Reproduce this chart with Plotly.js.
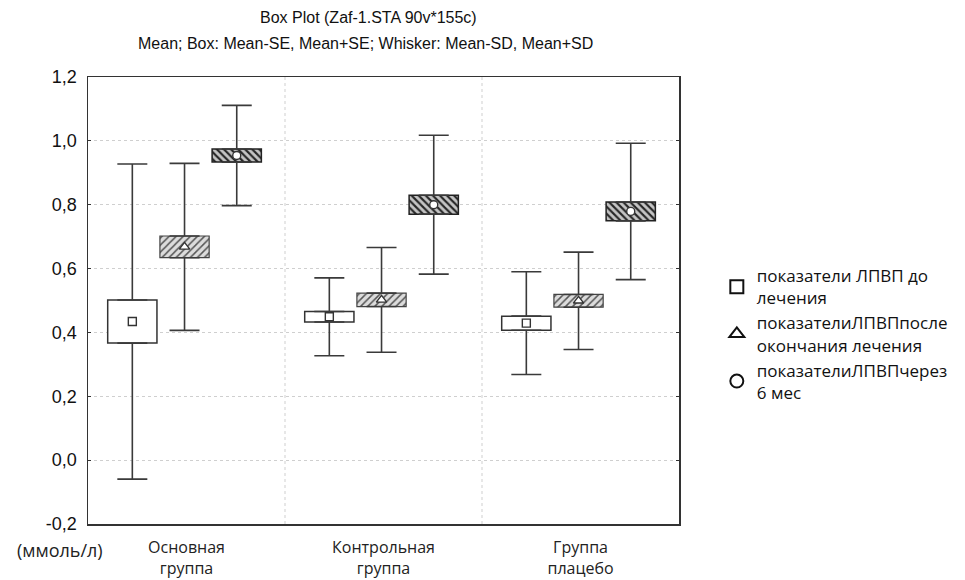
<!DOCTYPE html>
<html>
<head>
<meta charset="utf-8">
<script src="https://cdn.plot.ly/plotly-3.0.1.min.js"></script>
<style>html,body{margin:0;padding:0;background:#fff;}#chart{width:965px;height:580px;}</style>
</head>
<body>
<div id="chart"></div>
<script>
// Categories (groups) and series
const groups = ["Основная<br>группа", "Контрольная<br>группа", "Группа<br>плацебо"];
const seriesNames = [
  "показатели ЛПВП до<br>лечения",
  "показателиЛПВПпосле<br>окончания лечения",
  "показателиЛПВПчерез<br>6 мес"
];
// Mean values per series (one per group)
const meanBefore = [0.434, 0.449, 0.429];
const meanAfter  = [0.668, 0.502, 0.499];
const mean6m     = [0.954, 0.800, 0.779];
// Standard errors
const seBefore = [0.0675, 0.0165, 0.022];
const seAfter  = [0.034, 0.021, 0.020];
const se6m     = [0.0205, 0.0295, 0.0295];
// Standard deviations
const sdBefore = [0.4935, 0.122, 0.161];
const sdAfter  = [0.2615, 0.164, 0.1525];
const sd6m     = [0.157, 0.2175, 0.2135];
const yTicks = [-0.2, 0.0, 0.2, 0.4, 0.6, 0.8, 1.0, 1.2];
const yTickText = yTicks.map(v => v.toFixed(1).replace(".", ","));

// ---- styling / layout constants ----
const offsets = [-0.275, -0.01, 0.255];
const boxWidth = 0.25;
const symbols = ["square", "triangle-up", "circle"];
const legendSymbols = ["square-open", "triangle-up-open", "circle-open"];
const boxStyles = [
  {color: "#ffffff", line: {color: "#333", width: 1.5}},
  {color: "#d6d6d6", line: {color: "#444", width: 1.2},
   pattern: {shape: "/", bgcolor: "#dcdcdc", fgcolor: "#555", size: 5, solidity: 0.3}},
  {color: "#b0b0b0", line: {color: "#222", width: 1.5},
   pattern: {shape: "\\", bgcolor: "#c4c4c4", fgcolor: "#262626", size: 5, solidity: 0.42}}
];

const means = [meanBefore, meanAfter, mean6m];
const ses = [seBefore, seAfter, se6m];
const sds = [sdBefore, sdAfter, sd6m];

const traces = [];
const gx = groups.map((g, i) => i);

for (let k = 0; k < 3; k++) {
  const xs = gx.map(i => i + offsets[k]);
  const m = means[k], se = ses[k], sd = sds[k];
  const boxLow = m.map((v, i) => v - se[i]);
  const boxHigh = m.map((v, i) => v + se[i]);
  traces.push({
    type: "bar", x: xs, y: se.map(v => 2 * v), base: boxLow, width: boxWidth,
    marker: boxStyles[k], showlegend: false, hoverinfo: "skip"
  });
  traces.push({
    type: "scatter", mode: "markers", x: xs, y: boxHigh,
    marker: {size: 1, opacity: 0},
    error_y: {type: "data", symmetric: false, array: sd.map((v, i) => v - se[i]),
              arrayminus: sd.map(() => 0), width: 15, thickness: 1.6, color: "#3a3a3a"},
    showlegend: false, hoverinfo: "skip"
  });
  traces.push({
    type: "scatter", mode: "markers", x: xs, y: boxLow,
    marker: {size: 1, opacity: 0},
    error_y: {type: "data", symmetric: false, array: sd.map(() => 0),
              arrayminus: sd.map((v, i) => v - se[i]), width: 15, thickness: 1.6, color: "#3a3a3a"},
    showlegend: false, hoverinfo: "skip"
  });
  traces.push({
    type: "scatter", mode: "markers", x: xs, y: m,
    marker: {symbol: symbols[k], size: k === 1 ? 9 : 8, color: "#fff",
             line: {color: "#333", width: 1.4}},
    showlegend: false, hoverinfo: "skip"
  });
}
for (let k = 0; k < 3; k++) {
  traces.push({
    type: "scatter", mode: "markers", x: [null], y: [null], name: seriesNames[k],
    marker: {symbol: legendSymbols[k], size: 13, color: "#111", line: {width: 2, color: "#111"}}
  });
}

const layout = {
  width: 965, height: 580,
  margin: {l: 88, r: 286, t: 77, b: 56},
  paper_bgcolor: "#fff", plot_bgcolor: "#fff",
  barmode: "overlay",
  showlegend: true,
  legend: {
    x: 1.064, y: 0.595, xanchor: "left", yanchor: "top",
    font: {family: "Open Sans, Noto Sans, sans-serif", size: 17, color: "#111"},
    bgcolor: "rgba(0,0,0,0)", tracegroupgap: 0, itemclick: false
  },
  xaxis: {
    range: [-0.5, 2.5], tickmode: "array", tickvals: gx, ticktext: groups,
    showgrid: false, zeroline: false, showline: true, mirror: true,
    linecolor: "#333", linewidth: 1.5, ticks: "", ticklabelstandoff: 8,
    tickfont: {family: "Open Sans, Noto Sans, sans-serif", size: 16, color: "#222"}
  },
  yaxis: {
    range: [-0.2, 1.2], tickmode: "array", tickvals: yTicks, ticktext: yTickText,
    showgrid: true, gridcolor: "#cfcfcf", griddash: "dot", gridwidth: 1,
    zeroline: false, showline: true, mirror: "ticks", linecolor: "#333", linewidth: 1.5,
    ticks: "inside", ticklen: 3, tickcolor: "#333", ticklabelstandoff: 6,
    tickfont: {family: "Liberation Sans, Arial, sans-serif", size: 18, color: "#111"}
  },
  shapes: [0.5, 1.5].map(v => ({
    type: "line", xref: "x", yref: "paper", x0: v, x1: v, y0: 0, y1: 1,
    line: {color: "#cfcfcf", width: 1, dash: "dot"}, layer: "below"
  })),
  annotations: [
    {text: "Box Plot (Zaf-1.STA 90v*155c)", xref: "paper", yref: "paper",
     x: 0.475, y: 1.132, xanchor: "center", yanchor: "middle", showarrow: false,
     font: {family: "Liberation Sans, Arial, sans-serif", size: 16, color: "#111"}},
    {text: "Mean; Box: Mean-SE, Mean+SE; Whisker: Mean-SD, Mean+SD", xref: "paper", yref: "paper",
     x: 0.469, y: 1.076, xanchor: "center", yanchor: "middle", showarrow: false,
     font: {family: "Liberation Sans, Arial, sans-serif", size: 16, color: "#111"}},
    {text: "(ммоль/л)", xref: "paper", yref: "paper",
     x: -0.047, y: -0.058, xanchor: "center", yanchor: "middle", showarrow: false,
     font: {family: "Open Sans, Noto Sans, sans-serif", size: 18, color: "#222"}}
  ]
};

Plotly.newPlot("chart", traces, layout, {displayModeBar: false, staticPlot: true});
</script>
</body>
</html>
